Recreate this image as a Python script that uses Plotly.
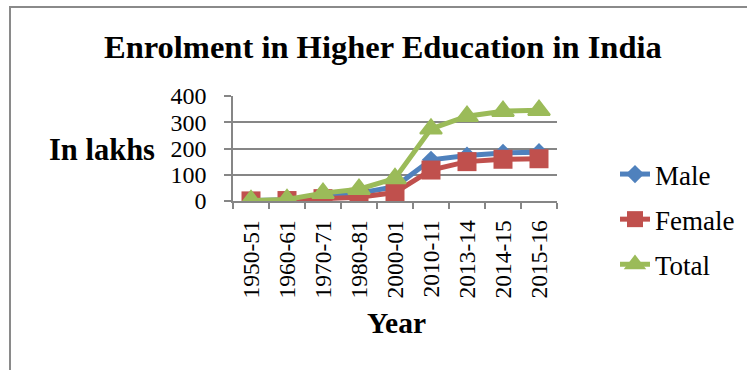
import plotly.graph_objects as go

# Enrolment in higher education in India (lakhs)
years = ["1950-51", "1960-61", "1970-71", "1980-81", "2000-01",
         "2010-11", "2013-14", "2014-15", "2015-16"]
male = [1.6, 4.5, 21, 30, 54, 157, 173, 183, 186]
female = [0.4, 1.7, 9, 14, 32, 118, 150, 159, 161]
total = [2, 6, 30, 45, 86, 275, 323, 342, 346]

FONT = "Liberation Serif, Times New Roman, serif"
GRID = "#868686"

# plot-area pixel geometry used to place paper-referenced items
W, H = 747, 370
X0, X1 = 233, 557
Y0, Y1 = 201, 96


def px(x):
    return (x - X0) / (X1 - X0)


def py(y):
    return (Y0 - y) / (Y0 - Y1)


fig = go.Figure()
fig.add_trace(go.Scatter(
    x=years, y=male, name="Male", mode="lines+markers", legendgroup="m",
    line=dict(color="#4F81BD", width=5),
    marker=dict(symbol="diamond", size=14, color="#4F81BD")))
fig.add_trace(go.Scatter(
    x=years, y=female, name="Female", mode="lines+markers", legendgroup="f",
    line=dict(color="#C0504D", width=5),
    marker=dict(symbol="square", size=19, color="#C0504D")))
fig.add_trace(go.Scatter(
    x=years, y=total, name="Total", mode="lines+markers", legendgroup="t",
    line=dict(color="#9BBB59", width=5),
    marker=dict(symbol="triangle-up", size=19, color="#9BBB59",
                line=dict(color="#9BBB59", width=2))))

fig.update_layout(
    width=W, height=H,
    margin=dict(l=X0, r=W - X1, t=Y1, b=H - Y0, pad=0),
    paper_bgcolor="white", plot_bgcolor="white",
    font=dict(family=FONT, color="black"),
    showlegend=True,
    legend=dict(
        xref="container", yref="container",
        x=(660 - 45) / W, y=1 - 150 / H, xanchor="left", yanchor="top",
        font=dict(family=FONT, size=27, color="black"),
        traceorder="grouped", tracegroupgap=7,
        bgcolor="rgba(0,0,0,0)", borderwidth=0,
    ),
    xaxis=dict(
        type="category", range=[-0.5, len(years) - 0.5],
        tickson="boundaries", ticks="outside", ticklen=6,
        tickcolor=GRID, tickwidth=1.5,
        showline=True, linecolor=GRID, linewidth=1.5,
        showgrid=False, tickangle=-90, ticklabelstandoff=8,
        tickfont=dict(family=FONT, size=23.5, color="black"),
    ),
    yaxis=dict(
        range=[0, 400], dtick=100, tick0=0,
        showgrid=True, gridcolor=GRID, gridwidth=1.5,
        showline=True, linecolor=GRID, linewidth=1.5,
        ticks="outside", ticklen=7, tickcolor=GRID, tickwidth=1.5,
        zeroline=False, ticklabelstandoff=13,
        tickfont=dict(family=FONT, size=24, color="black"),
    ),
    annotations=[
        dict(text="<b>Enrolment in Higher Education in India</b>",
             xref="paper", yref="paper", x=px(383), y=py(47),
             xanchor="center", yanchor="middle", showarrow=False,
             font=dict(family=FONT, size=32.5, color="black")),
        dict(text="<b>In lakhs</b>",
             xref="paper", yref="paper", x=px(102), y=py(150),
             xanchor="center", yanchor="middle", showarrow=False,
             font=dict(family=FONT, size=30.5, color="black")),
        dict(text="<b>Year</b>",
             xref="paper", yref="paper", x=px(396), y=py(323),
             xanchor="center", yanchor="middle", showarrow=False,
             font=dict(family=FONT, size=29.5, color="black")),
    ],
    shapes=[
        dict(type="line", xref="paper", yref="paper",
             x0=px(9), y0=py(7), x1=px(W + 5), y1=py(7),
             line=dict(color="#8a8a8a", width=2)),
        dict(type="line", xref="paper", yref="paper",
             x0=px(10), y0=py(7), x1=px(10), y1=py(H + 5),
             line=dict(color="#8a8a8a", width=2)),
    ],
)

fig.write_html("out.html")
